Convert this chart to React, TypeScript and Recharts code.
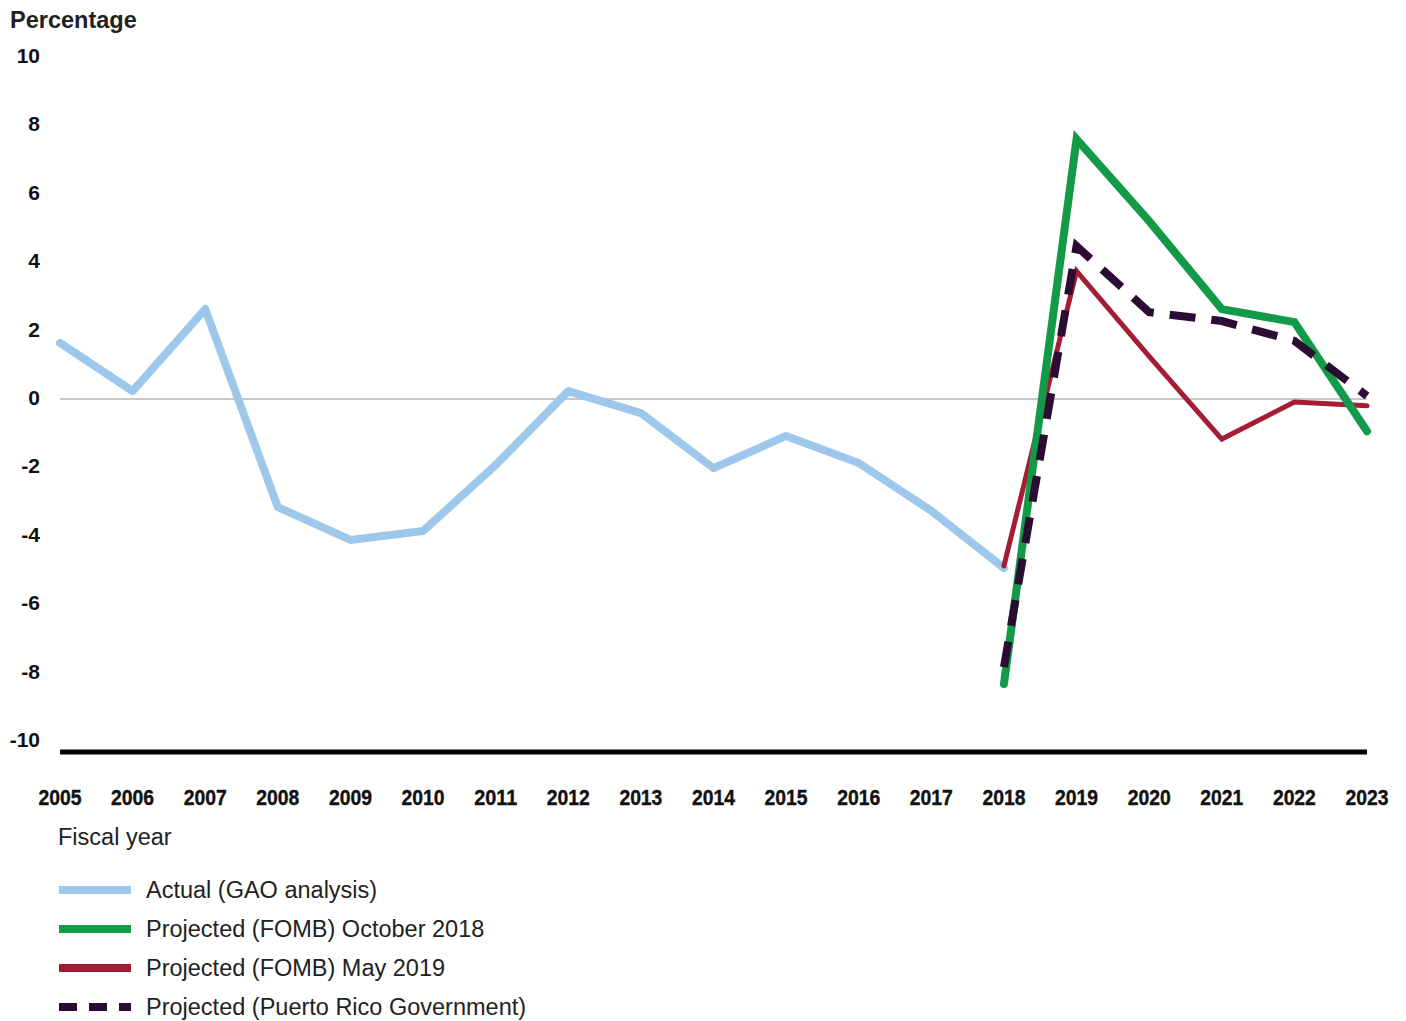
import React from 'react';
import { LineChart, Line, XAxis, YAxis, ReferenceLine } from 'recharts';

const years = ['2005','2006','2007','2008','2009','2010','2011','2012','2013','2014','2015','2016','2017','2018','2019','2020','2021','2022','2023'];
const actual = [1.64, 0.23, 2.63, -3.16, -4.12, -3.86, -1.93, 0.23, -0.41, -2.02, -1.08, -1.87, -3.27, -4.94, null, null, null, null, null];
const oct2018 = [null, null, null, null, null, null, null, null, null, null, null, null, null, -8.33, 7.6, 5.2, 2.63, 2.25, -0.94];
const may2019 = [null, null, null, null, null, null, null, null, null, null, null, null, null, -4.88, 3.74, 1.25, -1.17, -0.09, -0.2];
const prGov = [null, null, null, null, null, null, null, null, null, null, null, null, null, -7.84, 4.47, 2.54, 2.28, 1.7, 0.09];
const yTicks = [-10, -8, -6, -4, -2, 0, 2, 4, 6, 8, 10];

const data = years.map((y, i) => ({ year: y, actual: actual[i], oct2018: oct2018[i], may2019: may2019[i], prGov: prGov[i] }));

const C_ACTUAL = '#9DC8EB';
const C_OCT = '#129A48';
const C_MAY = '#A51C35';
const C_PR = '#2B0D33';

const legendItems = [
  { label: 'Actual (GAO analysis)', color: C_ACTUAL, dash: false },
  { label: 'Projected (FOMB) October 2018', color: C_OCT, dash: false },
  { label: 'Projected (FOMB) May 2019', color: C_MAY, dash: false },
  { label: 'Projected (Puerto Rico Government)', color: C_PR, dash: true },
];

const XTick = (props: any) => {
  const { x, y, payload } = props;
  return (
    <text x={x} y={y + 37} textAnchor="middle" dominantBaseline="central" textLength={43} lengthAdjust="spacingAndGlyphs"
      style={{ fontFamily: '"Liberation Sans", Arial, sans-serif', fontWeight: 700, fontSize: 22.5, fill: '#111', stroke: '#111', strokeWidth: 0.4 }}>
      {payload.value}
    </text>
  );
};

const YTick = (props: any) => {
  const { y, payload } = props;
  return (
    <text x={32} y={y - 1.5} textAnchor="end" dominantBaseline="central"
      style={{ fontFamily: '"Liberation Sans", Arial, sans-serif', fontWeight: 700, fontSize: 21, fill: '#111' }}>
      {payload.value}
    </text>
  );
};

export default function App() {
  return (
    <div style={{ position: 'relative', width: 1390, height: 1013, background: '#fff', fontFamily: '"Liberation Sans", Arial, sans-serif' }}>
      <div style={{ position: 'absolute', left: 2, top: -1, fontWeight: 700, fontSize: 23.5, color: '#222', lineHeight: '26px' }}>Percentage</div>
      <LineChart width={1390} height={810} data={data} margin={{ top: 49, right: 31, left: 0, bottom: 6 }}>
        <XAxis dataKey="year" height={60} axisLine={{ stroke: '#000', strokeWidth: 5 }} tickLine={false} tick={<XTick />} interval={0} />
        <YAxis width={52} domain={[-10.32, 10]} ticks={yTicks} allowDataOverflow axisLine={false} tickLine={false} tick={<YTick />} interval={0} />
        <ReferenceLine y={0} stroke="#c8c8c8" strokeWidth={2} />
        <Line dataKey="actual" stroke={C_ACTUAL} strokeWidth={8} dot={false} isAnimationActive={false} strokeLinecap="round" strokeLinejoin="round" connectNulls={false} />
        <Line dataKey="may2019" stroke={C_MAY} strokeWidth={5} dot={false} isAnimationActive={false} strokeLinecap="round" />
        <Line dataKey="oct2018" stroke={C_OCT} strokeWidth={8} dot={false} isAnimationActive={false} strokeLinecap="round" />
        <Line dataKey="prGov" stroke={C_PR} strokeWidth={8} strokeDasharray="26 16" dot={false} isAnimationActive={false} />
      </LineChart>
      <div style={{ position: 'absolute', left: 50, top: 815, fontSize: 23.5, color: '#222', lineHeight: '28px' }}>Fiscal year</div>
      {legendItems.map((it, i) => (
        <div key={it.label} style={{ position: 'absolute', left: 51, top: 868 + i * 39, height: 28, display: 'flex', alignItems: 'center' }}>
          <svg width={72} height={10} style={{ display: 'block' }}>
            <line x1={0} y1={5} x2={72} y2={5} stroke={it.color} strokeWidth={8} strokeDasharray={it.dash ? '18 12' : undefined} />
          </svg>
          <span style={{ marginLeft: 15, fontSize: 23.5, color: '#222', lineHeight: '28px', whiteSpace: 'nowrap' }}>{it.label}</span>
        </div>
      ))}
    </div>
  );
}
